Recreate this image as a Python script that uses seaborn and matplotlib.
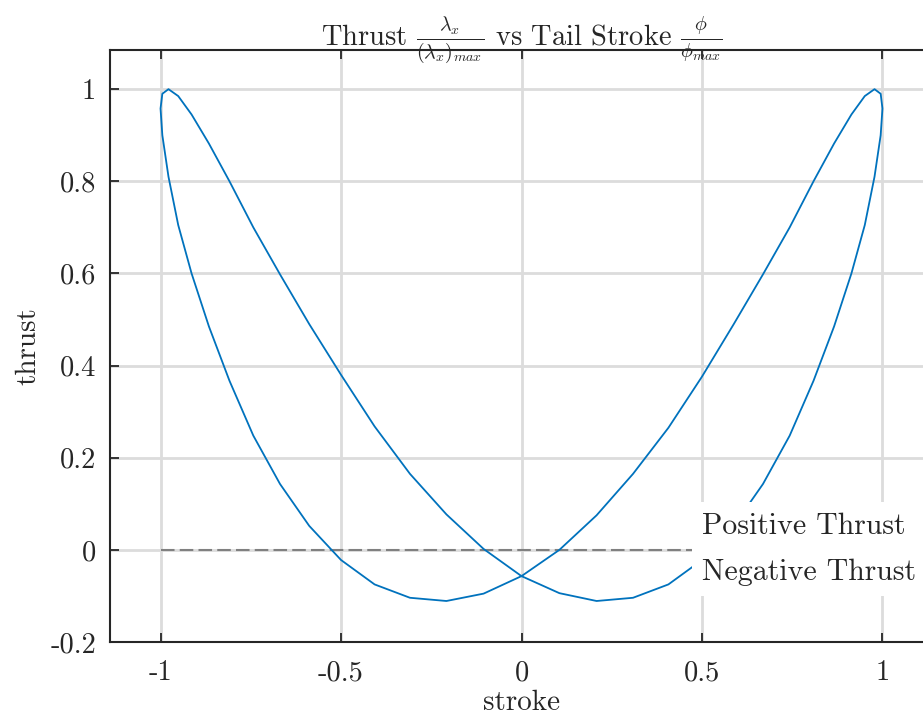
import numpy as np
import pandas as pd
import seaborn as sns
import matplotlib
matplotlib.use('Agg')
import matplotlib.pyplot as plt

# one full stroke cycle
stroke = [0.0, -0.105, -0.208, -0.309, -0.407, -0.5, -0.588, -0.669, -0.743, -0.809,
          -0.866, -0.914, -0.951, -0.978, -0.995, -1.0, -0.995, -0.978, -0.951, -0.914,
          -0.866, -0.809, -0.743, -0.669, -0.588, -0.5, -0.407, -0.309, -0.208, -0.105,
          0.0, 0.105, 0.208, 0.309, 0.407, 0.5, 0.588, 0.669, 0.743, 0.809,
          0.866, 0.914, 0.951, 0.978, 0.995, 1.0, 0.995, 0.978, 0.951, 0.914,
          0.866, 0.809, 0.743, 0.669, 0.588, 0.5, 0.407, 0.309, 0.208, 0.105, 0.0]
thrust = [-0.057, -0.095, -0.111, -0.104, -0.075, -0.022, 0.052, 0.143, 0.248, 0.367,
          0.485, 0.600, 0.705, 0.810, 0.900, 0.958, 0.990, 1.0, 0.985, 0.945,
          0.882, 0.800, 0.700, 0.598, 0.490, 0.380, 0.268, 0.165, 0.077, 0.002,
          -0.057, -0.094, -0.111, -0.104, -0.075, -0.022, 0.052, 0.143, 0.248, 0.367,
          0.485, 0.600, 0.705, 0.810, 0.900, 0.958, 0.990, 1.0, 0.985, 0.945,
          0.882, 0.800, 0.700, 0.598, 0.490, 0.376, 0.265, 0.165, 0.075, 0.0, -0.057]

xticks = [-1, -0.5, 0, 0.5, 1]
xticklabels = ['-1', '-0.5', '0', '0.5', '1']
yticks = [-0.2, 0, 0.2, 0.4, 0.6, 0.8, 1]
yticklabels = ['-0.2', '0', '0.2', '0.4', '0.6', '0.8', '1']

df = pd.DataFrame({'stroke': stroke, 'thrust': thrust})

sns.set_theme(style='white')
plt.rcParams['font.family'] = 'serif'
plt.rcParams['font.serif'] = ['cmr10']
plt.rcParams['mathtext.fontset'] = 'cm'
plt.rcParams['axes.unicode_minus'] = False
plt.rcParams['axes.formatter.use_mathtext'] = True

fig = plt.figure(figsize=(9.23, 7.17), dpi=100)
ax = fig.add_axes([110/923, 75/717, 823/923, 592/717])

sns.lineplot(data=df, x='stroke', y='thrust', sort=False, estimator=None,
             color='#0072BD', linewidth=1.3, ax=ax, zorder=3)
ax.hlines(0, min(stroke), max(stroke), colors='#808080', linestyles=(0, (6.5, 2.5)),
          linewidth=1.5, zorder=2)

ax.set_xlim(-1.14, 1.14)
ax.set_ylim(-0.2, 1.085)
ax.set_xticks(xticks)
ax.set_xticklabels(xticklabels)
ax.set_yticks(yticks)
ax.set_yticklabels(yticklabels)
ax.grid(True, color='#dcdcdc', linewidth=2)
ax.set_axisbelow(True)

for s in ['left', 'bottom', 'top']:
    ax.spines[s].set_color('#262626')
    ax.spines[s].set_linewidth(1.5)
ax.spines['right'].set_visible(False)
ax.tick_params(direction='in', length=6.5, width=1.3, color='#262626',
               labelsize=20.5, labelcolor='#262626', top=True, bottom=True, left=True)
ax.tick_params(axis='x', pad=13)
ax.tick_params(axis='y', pad=10)

ax.set_xlabel('stroke', fontsize=21, color='#262626', labelpad=2)
ax.set_ylabel('thrust', fontsize=21, color='#262626', labelpad=6)
ax.set_title(r'Thrust $\frac{\lambda_x}{(\lambda_x)_{max}}$ vs Tail Stroke $\frac{\phi}{\phi_{max}}$',
             fontsize=20.5, color='#262626', pad=3)

box = dict(facecolor='white', edgecolor='none', pad=7)
ax.text(0.5, 0.052, 'Positive Thrust', fontsize=21.5, color='#262626', ha='left', va='center',
        bbox=box, zorder=4)
ax.text(0.5, -0.048, 'Negative Thrust', fontsize=21.5, color='#262626', ha='left', va='center',
        bbox=box, zorder=4)

fig.savefig('out.png', dpi=100)
